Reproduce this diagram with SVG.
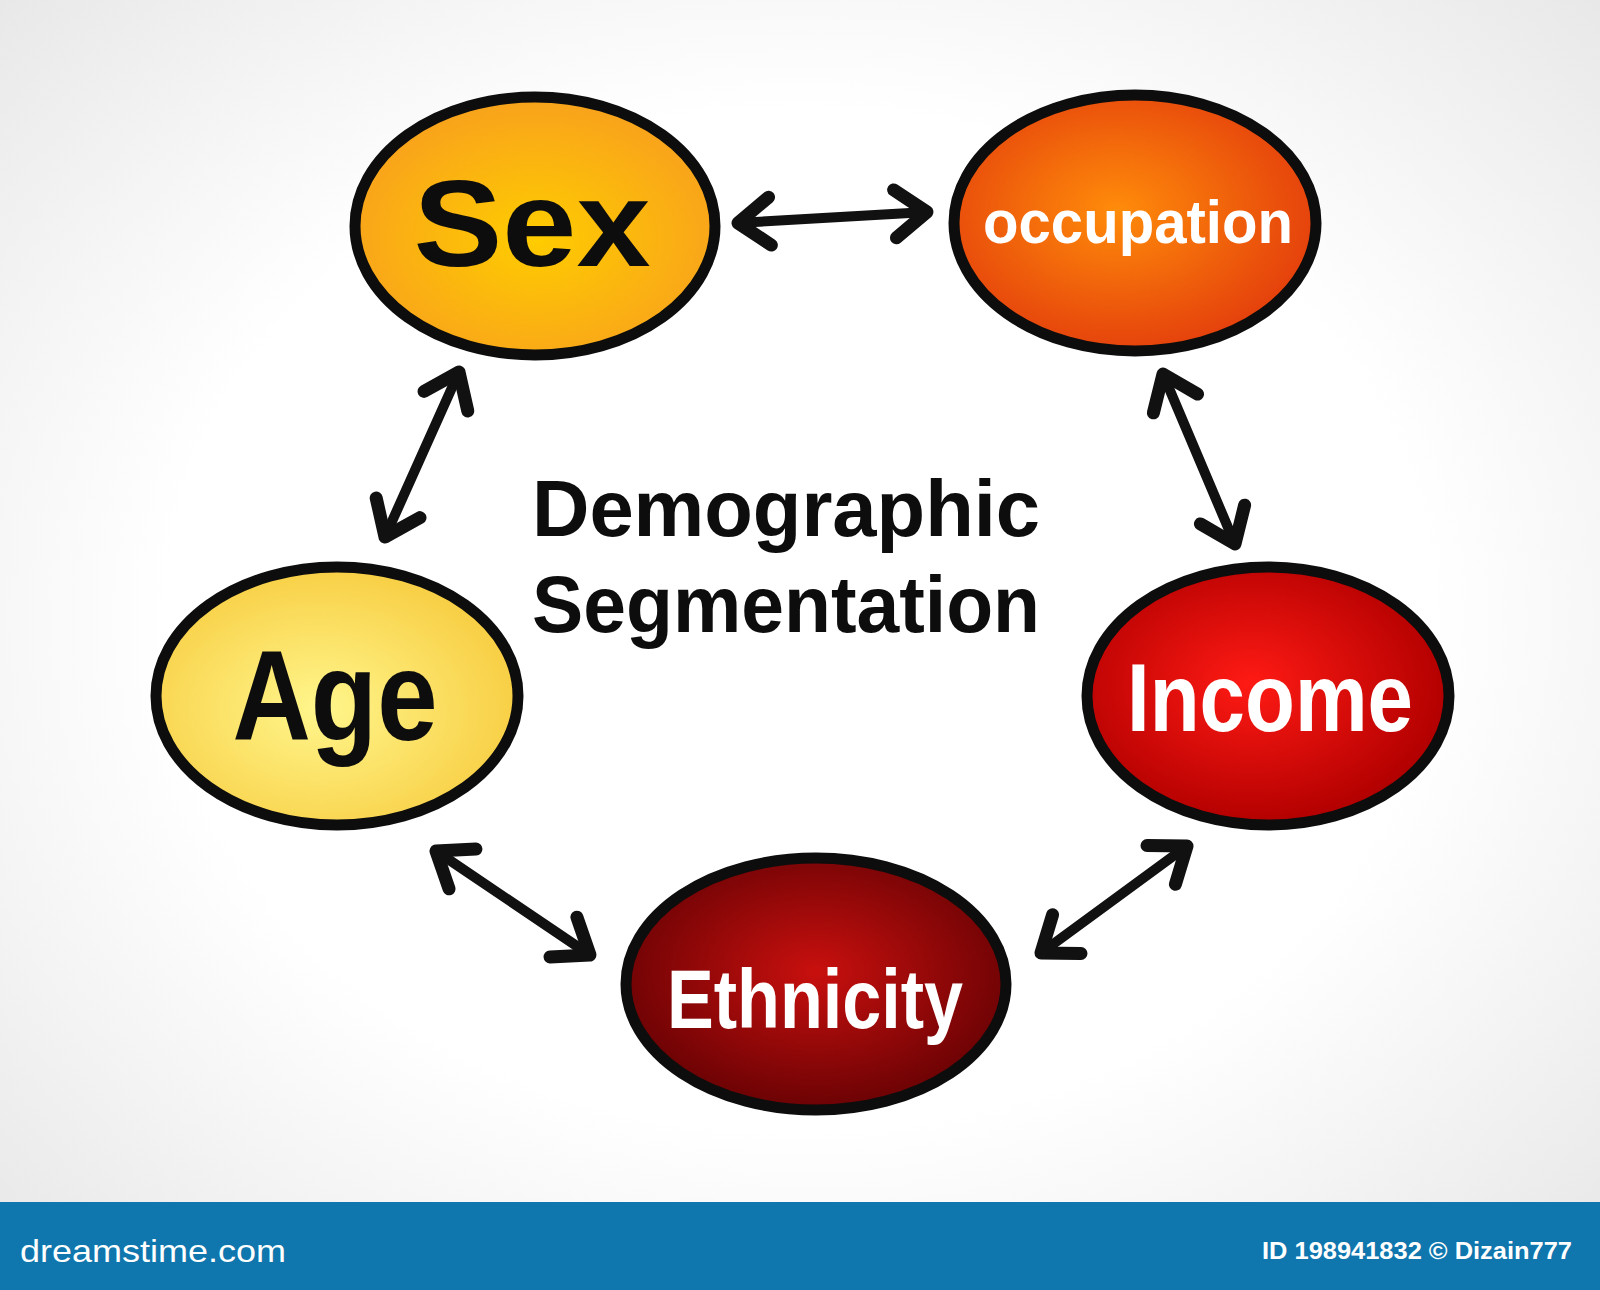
<svg xmlns="http://www.w3.org/2000/svg" width="1600" height="1290" viewBox="0 0 1600 1290">
  <defs>
    <radialGradient id="bg" cx="50%" cy="48%" r="72%">
      <stop offset="0.55" stop-color="#ffffff"/>
      <stop offset="1" stop-color="#e6e6e6"/>
    </radialGradient>
    <radialGradient id="gSex" cx="50%" cy="55%" r="55%">
      <stop offset="0" stop-color="#ffcc00"/>
      <stop offset="1" stop-color="#f8a21c"/>
    </radialGradient>
    <radialGradient id="gOcc" cx="45%" cy="45%" r="55%">
      <stop offset="0" stop-color="#ff8c0a"/>
      <stop offset="1" stop-color="#e5420c"/>
    </radialGradient>
    <radialGradient id="gAge" cx="45%" cy="55%" r="55%">
      <stop offset="0" stop-color="#fff68c"/>
      <stop offset="1" stop-color="#f8cf45"/>
    </radialGradient>
    <radialGradient id="gInc" cx="45%" cy="45%" r="55%">
      <stop offset="0" stop-color="#ff1a14"/>
      <stop offset="1" stop-color="#b20000"/>
    </radialGradient>
    <radialGradient id="gEth" cx="50%" cy="45%" r="55%">
      <stop offset="0" stop-color="#c8100e"/>
      <stop offset="1" stop-color="#6a0204"/>
    </radialGradient>
    <marker id="head" markerUnits="userSpaceOnUse" markerWidth="80" markerHeight="80" viewBox="-50 -40 60 80" refX="0" refY="0" orient="auto-start-reverse" overflow="visible">
      <path d="M-32,-24 L0,0 L-32,24" fill="none" stroke="#111" stroke-width="13" stroke-linecap="round" stroke-linejoin="round"/>
    </marker>
    <style>
      .node { stroke: #0d0d0d; stroke-width: 11; }
      .lbl { font-family: "Liberation Sans", "DejaVu Sans", sans-serif; font-weight: 700; text-anchor: middle; }
      .dark { fill: #0d0d0d; }
      .light { fill: #ffffff; }
      .conn { fill: none; stroke: #111; stroke-width: 10; stroke-linecap: round; marker-start: url(#head); marker-end: url(#head); }
      .foot { font-family: "Liberation Sans", "DejaVu Sans", sans-serif; fill: #ffffff; }
    </style>
  </defs>

  <rect x="0" y="0" width="1600" height="1290" fill="url(#bg)"/>

  <g id="connectors">
    <line class="conn" x1="738" y1="223" x2="927" y2="212"/>
    <line class="conn" x1="459" y1="372" x2="385" y2="537"/>
    <line class="conn" x1="1163" y1="374" x2="1235" y2="544"/>
    <line class="conn" x1="436" y1="851" x2="590" y2="955"/>
    <line class="conn" x1="1187" y1="846" x2="1041" y2="953"/>
  </g>

  <g id="node-sex">
    <ellipse class="node" cx="535" cy="226" rx="180" ry="129" fill="url(#gSex)"/>
    <text class="lbl dark" x="532" y="266" font-size="122" textLength="237" lengthAdjust="spacingAndGlyphs">Sex</text>
  </g>

  <g id="node-occupation">
    <ellipse class="node" cx="1135" cy="223" rx="181" ry="128" fill="url(#gOcc)"/>
    <text class="lbl light" x="1138" y="243" font-size="62" textLength="310" lengthAdjust="spacingAndGlyphs">occupation</text>
  </g>

  <g id="node-age">
    <ellipse class="node" cx="337" cy="696" rx="181" ry="129" fill="url(#gAge)"/>
    <text class="lbl dark" x="335" y="740" font-size="128" textLength="205" lengthAdjust="spacingAndGlyphs">Age</text>
  </g>

  <g id="node-income">
    <ellipse class="node" cx="1268" cy="696" rx="181" ry="129" fill="url(#gInc)"/>
    <text class="lbl light" x="1270" y="731" font-size="96" textLength="286" lengthAdjust="spacingAndGlyphs">Income</text>
  </g>

  <g id="node-ethnicity">
    <ellipse class="node" cx="816" cy="984" rx="190" ry="126" fill="url(#gEth)"/>
    <text class="lbl light" x="815" y="1028" font-size="84" textLength="296" lengthAdjust="spacingAndGlyphs">Ethnicity</text>
  </g>

  <g id="title">
    <text class="lbl dark" x="786" y="536" font-size="80" textLength="508" lengthAdjust="spacingAndGlyphs">Demographic</text>
    <text class="lbl dark" x="786" y="632" font-size="80" textLength="508" lengthAdjust="spacingAndGlyphs">Segmentation</text>
  </g>

  <g id="footer">
    <rect x="0" y="1202" width="1600" height="88" fill="#0f76ae"/>
    <text class="foot" x="20" y="1262" font-size="32" textLength="266" lengthAdjust="spacingAndGlyphs">dreamstime.com</text>
    <text class="foot" x="1572" y="1259" font-size="23" font-weight="700" text-anchor="end" textLength="310" lengthAdjust="spacingAndGlyphs">ID 198941832 © Dizain777</text>
  </g>
</svg>
